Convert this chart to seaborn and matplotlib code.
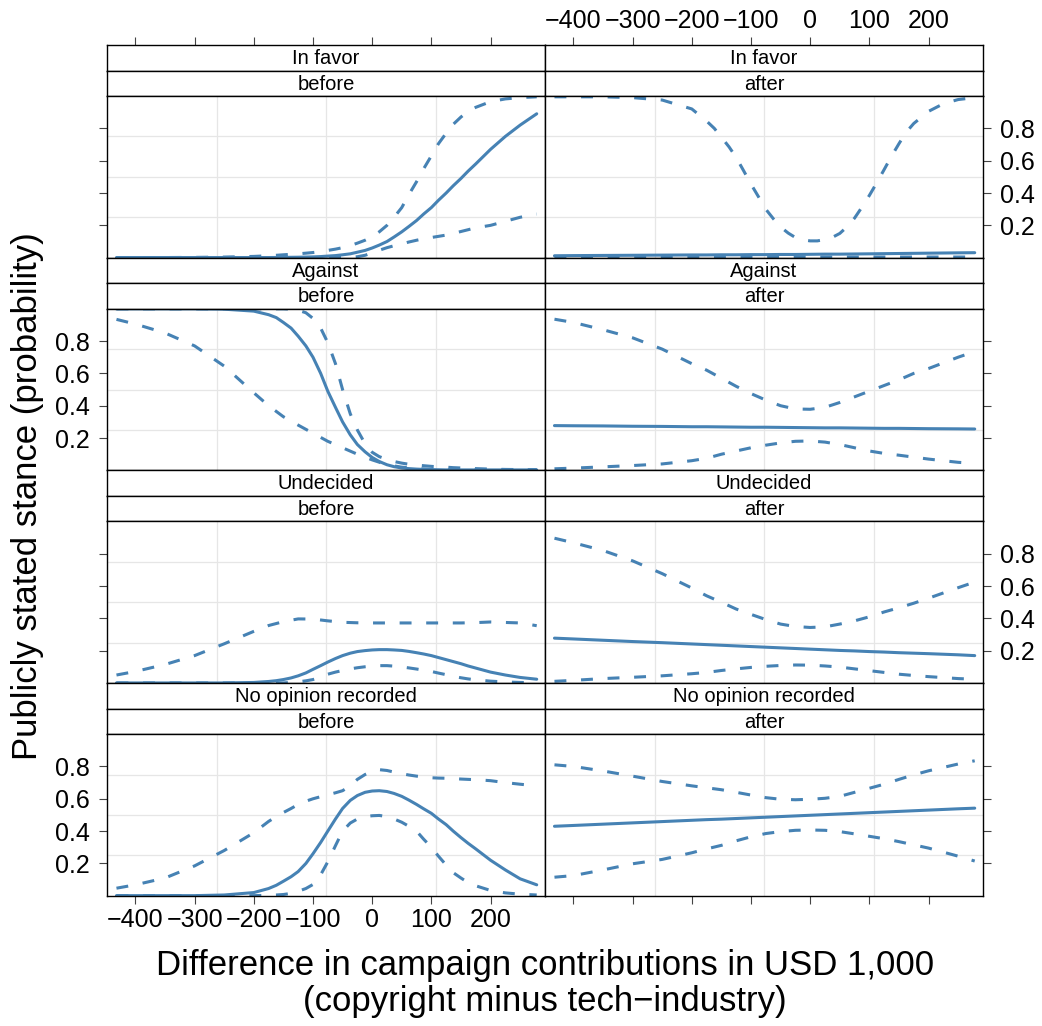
import pandas as pd
import matplotlib
matplotlib.use("Agg")
import matplotlib.pyplot as plt
import seaborn as sns

# x grids (USD 1,000, copyright minus tech-industry)
x_coarse = [-432, -400, -350, -300, -250, -200, -175, -150, -125, -100, -75, -50,
            -25, 0, 25, 50, 75, 100, 125, 150, 175, 200, 250, 278]
x_fine = [-432, -400, -350, -300, -250, -200, -175, -162, -150, -137,
          -125, -112, -100, -87, -75, -62, -50, -37, -25, -12,
          0, 12, 25, 37, 50, 62, 75, 87, 100, 112,
          125, 137, 150, 162, 175, 200, 225, 250, 278]

stances = ["In favor", "Against", "Undecided", "No opinion recorded"]
periods = ["before", "after"]

# In favor
favor_before_fit = [0.001, 0.001, 0.001, 0.001, 0.001, 0.001, 0.001, 0.0015, 0.002, 0.0025,
                    0.003, 0.004, 0.005, 0.007, 0.010, 0.013, 0.018, 0.024, 0.034, 0.045,
                    0.06, 0.078, 0.10, 0.128, 0.16, 0.193, 0.23, 0.27, 0.31, 0.355,
                    0.40, 0.445, 0.49, 0.535, 0.58, 0.67, 0.75, 0.82, 0.89]
favor_before_upper = [0.0, 0.0, 0.001, 0.002, 0.004, 0.008, 0.012, 0.015, 0.018, 0.021,
                      0.024, 0.028, 0.032, 0.038, 0.045, 0.053, 0.062, 0.075, 0.09, 0.108,
                      0.13, 0.16, 0.20, 0.25, 0.31, 0.39, 0.47, 0.55, 0.63, 0.705,
                      0.77, 0.825, 0.87, 0.905, 0.93, 0.965, 0.982, 0.99, 0.995]
favor_before_lower = [0.0, 0.0, 0.0, 0.0, 0.0, 0.0, 0.0, 0.0, 0.0, 0.0,
                      0.0, 0.0, 0.0, 0.0, 0.0, 0.0, 0.002, 0.003, 0.006, 0.015,
                      0.03, 0.046, 0.062, 0.074, 0.085, 0.097, 0.108, 0.117, 0.125, 0.132,
                      0.14, 0.15, 0.162, 0.173, 0.185, 0.20, 0.225, 0.25, 0.27]
favor_after_fit = [0.012, 0.013, 0.014, 0.015, 0.016, 0.017, 0.017, 0.018, 0.018, 0.019, 0.019, 0.020,
                   0.020, 0.021, 0.022, 0.022, 0.023, 0.024, 0.025, 0.026, 0.027, 0.028, 0.030, 0.031]
favor_after_upper = [0.995, 0.995, 0.995, 0.99, 0.975, 0.92, 0.845, 0.80, 0.745, 0.685,
                     0.62, 0.535, 0.455, 0.375, 0.30, 0.24, 0.19, 0.152, 0.125, 0.11,
                     0.104, 0.104, 0.112, 0.125, 0.15, 0.19, 0.245, 0.31, 0.385, 0.46,
                     0.545, 0.625, 0.705, 0.775, 0.83, 0.905, 0.952, 0.978, 0.99]
favor_after_lower = [0.003, 0.003, 0.003, 0.003, 0.003, 0.003, 0.003, 0.003, 0.003, 0.003, 0.003, 0.003,
                     0.004, 0.004, 0.004, 0.004, 0.004, 0.004, 0.004, 0.004, 0.004, 0.004, 0.004, 0.004]

# Against
against_before_fit = [0.999, 0.999, 0.999, 0.999, 0.997, 0.985, 0.963, 0.945, 0.915, 0.88,
                      0.83, 0.77, 0.70, 0.60, 0.49, 0.39, 0.30, 0.22, 0.16, 0.115,
                      0.08, 0.055, 0.035, 0.023, 0.015, 0.011, 0.008, 0.006, 0.005, 0.004,
                      0.003, 0.003, 0.003, 0.003, 0.003, 0.003, 0.003, 0.003, 0.003]
against_before_upper = [0.999, 0.999, 0.999, 0.999, 0.999, 0.999, 0.999, 0.999, 0.999, 0.997,
                        0.99, 0.975, 0.94, 0.88, 0.79, 0.66, 0.50, 0.35, 0.25, 0.165,
                        0.112, 0.085, 0.068, 0.055, 0.045, 0.038, 0.033, 0.029, 0.025, 0.022,
                        0.02, 0.017, 0.015, 0.013, 0.011, 0.008, 0.006, 0.005, 0.004]
against_before_lower = [0.934, 0.905, 0.85, 0.77, 0.645, 0.48, 0.40, 0.332, 0.28, 0.23, 0.18, 0.14,
                        0.10, 0.065, 0.035, 0.02, 0.012, 0.006, 0.004, 0.003, 0.003, 0.003, 0.003, 0.003]
against_after_fit = [0.277, 0.276, 0.275, 0.273, 0.272, 0.270, 0.270, 0.269, 0.268, 0.267, 0.267, 0.266,
                     0.265, 0.264, 0.263, 0.263, 0.262, 0.261, 0.260, 0.260, 0.259, 0.258, 0.257, 0.256]
against_after_upper = [0.935, 0.915, 0.87, 0.82, 0.75, 0.66, 0.62, 0.57, 0.52, 0.475, 0.435, 0.40,
                       0.38, 0.378, 0.39, 0.42, 0.455, 0.49, 0.525, 0.56, 0.60, 0.63, 0.70, 0.735]
against_after_lower = [0.01, 0.014, 0.022, 0.03, 0.04, 0.06, 0.075, 0.10, 0.12, 0.14, 0.156, 0.17,
                       0.18, 0.182, 0.175, 0.16, 0.14, 0.12, 0.105, 0.094, 0.082, 0.07, 0.05, 0.043]

# Undecided
undecided_before_fit = [0.001, 0.001, 0.001, 0.001, 0.001, 0.004, 0.01, 0.015, 0.022, 0.032,
                        0.045, 0.063, 0.085, 0.108, 0.13, 0.152, 0.17, 0.185, 0.195, 0.201,
                        0.205, 0.207, 0.207, 0.205, 0.202, 0.196, 0.188, 0.18, 0.17, 0.158,
                        0.145, 0.133, 0.12, 0.106, 0.093, 0.068, 0.05, 0.035, 0.024]
undecided_before_upper = [0.05, 0.072, 0.115, 0.17, 0.243, 0.32, 0.356, 0.38, 0.397, 0.396, 0.385, 0.376,
                          0.373, 0.372, 0.372, 0.372, 0.372, 0.372, 0.372, 0.372, 0.374, 0.378, 0.372, 0.355]
undecided_before_lower = [0.001, 0.001, 0.001, 0.001, 0.001, 0.001, 0.001, 0.001, 0.001, 0.004,
                          0.008, 0.014, 0.022, 0.036, 0.055, 0.068, 0.078, 0.088, 0.095, 0.101,
                          0.105, 0.108, 0.108, 0.105, 0.10, 0.094, 0.087, 0.08, 0.072, 0.062,
                          0.052, 0.042, 0.033, 0.026, 0.02, 0.012, 0.007, 0.004, 0.002]
undecided_after_fit = [0.278, 0.273, 0.265, 0.257, 0.250, 0.242, 0.238, 0.234, 0.230, 0.226, 0.222, 0.218,
                       0.214, 0.210, 0.206, 0.202, 0.199, 0.195, 0.192, 0.188, 0.185, 0.182, 0.175, 0.170]
undecided_after_upper = [0.896, 0.868, 0.82, 0.756, 0.677, 0.588, 0.54, 0.50, 0.458, 0.425, 0.393, 0.365,
                         0.35, 0.344, 0.348, 0.365, 0.385, 0.41, 0.44, 0.466, 0.494, 0.525, 0.59, 0.625]
undecided_after_lower = [0.011, 0.017, 0.028, 0.036, 0.045, 0.058, 0.066, 0.078, 0.088, 0.097, 0.104, 0.109,
                         0.112, 0.111, 0.106, 0.099, 0.088, 0.077, 0.066, 0.055, 0.047, 0.04, 0.028, 0.024]

# No opinion recorded
noop_before_fit = [0.001, 0.001, 0.001, 0.001, 0.005, 0.02, 0.045, 0.065, 0.09, 0.118,
                   0.15, 0.20, 0.26, 0.33, 0.40, 0.475, 0.54, 0.59, 0.62, 0.64,
                   0.648, 0.65, 0.645, 0.633, 0.615, 0.592, 0.565, 0.538, 0.51, 0.475,
                   0.44, 0.40, 0.36, 0.325, 0.29, 0.22, 0.16, 0.105, 0.068]
noop_before_upper = [0.047, 0.068, 0.11, 0.185, 0.28, 0.39, 0.46, 0.49, 0.515, 0.54,
                     0.565, 0.585, 0.60, 0.613, 0.625, 0.637, 0.65, 0.68, 0.72, 0.75,
                     0.77, 0.78, 0.775, 0.765, 0.755, 0.747, 0.74, 0.735, 0.73, 0.728,
                     0.727, 0.725, 0.722, 0.72, 0.718, 0.712, 0.70, 0.69, 0.68]
noop_before_lower = [0.001, 0.001, 0.001, 0.001, 0.001, 0.001, 0.003, 0.005, 0.008, 0.015,
                     0.028, 0.045, 0.07, 0.13, 0.21, 0.31, 0.40, 0.45, 0.475, 0.49,
                     0.495, 0.497, 0.49, 0.475, 0.455, 0.43, 0.40, 0.35, 0.30, 0.245,
                     0.19, 0.143, 0.11, 0.082, 0.062, 0.033, 0.018, 0.01, 0.005]
noop_after_fit = [0.430, 0.435, 0.443, 0.451, 0.459, 0.467, 0.471, 0.474, 0.478, 0.482, 0.486, 0.490,
                  0.494, 0.498, 0.502, 0.506, 0.510, 0.514, 0.518, 0.522, 0.526, 0.530, 0.538, 0.542]
noop_after_upper = [0.81, 0.80, 0.772, 0.74, 0.707, 0.68, 0.668, 0.656, 0.64, 0.623, 0.607, 0.597,
                    0.594, 0.597, 0.603, 0.615, 0.64, 0.665, 0.69, 0.72, 0.748, 0.773, 0.815, 0.835]
noop_after_lower = [0.115, 0.125, 0.16, 0.198, 0.225, 0.266, 0.29, 0.312, 0.34, 0.365, 0.385, 0.397,
                    0.405, 0.407, 0.405, 0.397, 0.383, 0.368, 0.353, 0.335, 0.315, 0.295, 0.245, 0.215]

x_ticks = [-400, -300, -200, -100, 0, 100, 200]
x_tick_labels = ["\u2212400", "\u2212300", "\u2212200", "\u2212100", "0", "100", "200"]
y_ticks = [0.2, 0.4, 0.6, 0.8]
y_tick_labels = ["0.2", "0.4", "0.6", "0.8"]

# (stance, period) -> list of (kind, x grid, values)
series = {
    ("In favor", "before"): [("fit", x_fine, favor_before_fit), ("lower", x_fine, favor_before_lower),
                             ("upper", x_fine, favor_before_upper)],
    ("In favor", "after"): [("fit", x_coarse, favor_after_fit), ("lower", x_coarse, favor_after_lower),
                            ("upper", x_fine, favor_after_upper)],
    ("Against", "before"): [("fit", x_fine, against_before_fit), ("lower", x_coarse, against_before_lower),
                            ("upper", x_fine, against_before_upper)],
    ("Against", "after"): [("fit", x_coarse, against_after_fit), ("lower", x_coarse, against_after_lower),
                           ("upper", x_coarse, against_after_upper)],
    ("Undecided", "before"): [("fit", x_fine, undecided_before_fit), ("lower", x_fine, undecided_before_lower),
                              ("upper", x_coarse, undecided_before_upper)],
    ("Undecided", "after"): [("fit", x_coarse, undecided_after_fit), ("lower", x_coarse, undecided_after_lower),
                             ("upper", x_coarse, undecided_after_upper)],
    ("No opinion recorded", "before"): [("fit", x_fine, noop_before_fit), ("lower", x_fine, noop_before_lower),
                                        ("upper", x_fine, noop_before_upper)],
    ("No opinion recorded", "after"): [("fit", x_coarse, noop_after_fit), ("lower", x_coarse, noop_after_lower),
                                       ("upper", x_coarse, noop_after_upper)],
}

# long-form table for seaborn
rows = []
for (stance, period), parts in series.items():
    for kind, xs, vals in parts:
        for xv, yv in zip(xs, vals):
            rows.append({"stance": stance, "period": period, "kind": kind, "x": xv, "prob": yv})
df = pd.DataFrame(rows)

sns.set_style("white")
plt.rcParams["font.family"] = ["Liberation Sans", "DejaVu Sans"]
plt.rcParams["text.color"] = "black"

W, H = 1042, 1026
fig = plt.figure(figsize=(W / 100, H / 100), dpi=100)


def rect(x0, y0, x1, y1):
    return [x0 / W, 1 - y1 / H, (x1 - x0) / W, (y1 - y0) / H]


line_color = "#4682b4"
xlim = (-448, 292)
cols = [(107, 545), (545, 983)]
block = 212.7
strip_h = 25.5
tick_kw = dict(direction="out", length=5.8, width=0.8, color="#444444",
               labelcolor="black", labelsize=18)

for r, stance in enumerate(stances):
    top = 45 + r * block
    for c, period in enumerate(periods):
        x0, x1 = cols[c]
        # two strips per panel
        strips = []
        for k, label in enumerate([stance, period]):
            sax = fig.add_axes(rect(x0, top + k * strip_h, x1, top + (k + 1) * strip_h))
            sax.set_xlim(xlim)
            sax.set_ylim(0, 1)
            sax.set_facecolor("white")
            sax.set_yticks([])
            sax.set_xticks([])
            for sp in sax.spines.values():
                sp.set_color("black")
                sp.set_linewidth(1.0)
            sax.text(0.5, 0.47, label, transform=sax.transAxes, ha="center", va="center", fontsize=14.5)
            strips.append(sax)

        ax = fig.add_axes(rect(x0, top + 2 * strip_h, x1, top + block))
        for gx in (0.25, 0.5, 0.75):
            ax.axvline(xlim[0] + gx * (xlim[1] - xlim[0]), color="#e6e6e6", lw=0.9, zorder=0)
            ax.axhline(gx, color="#e6e6e6", lw=0.9, zorder=0)
        sub = df[(df.stance == stance) & (df.period == period)]
        sns.lineplot(data=sub, x="x", y="prob", style="kind", ax=ax, color=line_color,
                     dashes={"fit": "", "lower": (3.9, 4.8), "upper": (3.9, 4.8)},
                     linewidth=2.2, estimator=None, sort=True, legend=False)
        ax.set_xlim(xlim)
        ax.set_ylim(0, 1)
        ax.set_xlabel("")
        ax.set_ylabel("")
        for sp in ax.spines.values():
            sp.set_color("black")
            sp.set_linewidth(1.0)

        # y axis: ticks on the outer side, labels alternate between rows
        ax.set_yticks(y_ticks)
        ax.set_yticklabels(y_tick_labels)
        if c == 0:
            ax.tick_params(axis="y", left=True, right=False, labelleft=(r % 2 == 1),
                           labelright=False, pad=6.5, **tick_kw)
        else:
            ax.tick_params(axis="y", left=False, right=True, labelleft=False,
                           labelright=(r % 2 == 0), pad=6.5, **tick_kw)

        # x axis: bottom row ticks, top row ticks sit on the strip
        ax.set_xticks(x_ticks)
        ax.set_xticklabels(x_tick_labels)
        if r == 3:
            ax.tick_params(axis="x", bottom=True, top=False, labelbottom=(c == 0),
                           labeltop=False, pad=3, **tick_kw)
        else:
            ax.tick_params(axis="x", bottom=False, top=False, labelbottom=False, labeltop=False)
        if r == 0:
            sax = strips[0]
            sax.set_xticks(x_ticks)
            sax.set_xticklabels(x_tick_labels)
            sax.tick_params(axis="x", bottom=False, top=True, labelbottom=False,
                            labeltop=(c == 1), pad=3, **tick_kw)

fig.text(27.5 / W, 1 - 496.5 / H, "Publicly stated stance (probability)", rotation=90,
         ha="center", va="center", fontsize=25)
fig.text(545 / W, 1 - 966 / H, "Difference in campaign contributions in USD 1,000",
         ha="center", va="center", fontsize=25)
fig.text(545 / W, 1 - 1002 / H, "(copyright minus tech\u2212industry)",
         ha="center", va="center", fontsize=25)

fig.savefig("out.png", dpi=100)
